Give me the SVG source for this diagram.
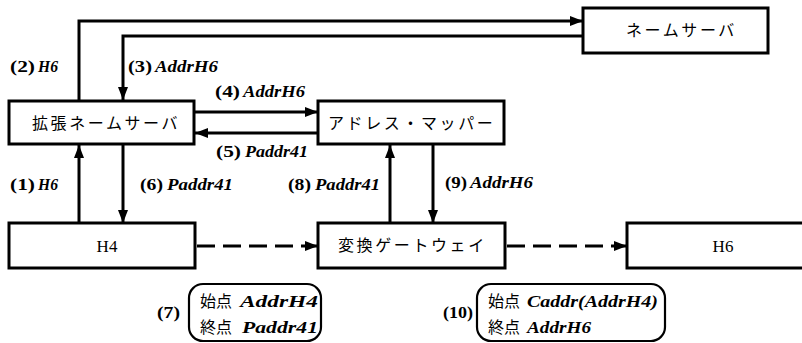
<svg xmlns="http://www.w3.org/2000/svg" width="802" height="343" viewBox="0 0 802 343">
<defs>
<style>
.box{fill:#fff;stroke:#000;stroke-width:3}
.ln{fill:none;stroke:#000;stroke-width:3}
.dash{fill:none;stroke:#000;stroke-width:3;stroke-dasharray:18 8}
.jp{font-family:"Noto Sans CJK JP",sans-serif;font-size:16px;fill:#000;letter-spacing:2.6px}
.num{font-family:"Liberation Serif","DejaVu Serif",serif;font-size:17px;font-weight:700;fill:#000}
.nm{font-family:"Liberation Serif","DejaVu Serif",serif;font-size:17px;font-weight:700;font-style:italic;fill:#000}
.hn{font-family:"Liberation Serif","DejaVu Serif",serif;font-size:17px;fill:#000}
.cj{font-family:"Noto Sans CJK JP",sans-serif;font-size:16px;fill:#000}
.co{fill:#fff;stroke:#000;stroke-width:2.2}
</style>
<marker id="ah" viewBox="0 0 13 10" refX="13" refY="5" markerWidth="13" markerHeight="10" markerUnits="userSpaceOnUse" orient="auto">
<path d="M0,0 L13,5 L0,10 Z" fill="#000"/>
</marker>
</defs>
<rect width="802" height="343" fill="#fff"/>
<g id="connectors">
<path class="ln" d="M79,101 V21 H583" marker-end="url(#ah)"/>
<path class="ln" d="M583,36 H123 V100" marker-end="url(#ah)"/>
<path class="ln" d="M195,112 H318" marker-end="url(#ah)"/>
<path class="ln" d="M318,133 H195" marker-end="url(#ah)"/>
<path class="ln" d="M79,223 V145" marker-end="url(#ah)"/>
<path class="ln" d="M123,145 V223" marker-end="url(#ah)"/>
<path class="ln" d="M390,223 V145" marker-end="url(#ah)"/>
<path class="ln" d="M433,145 V223" marker-end="url(#ah)"/>
<path class="dash" d="M197,246 H318" marker-end="url(#ah)"/>
<path class="dash" d="M507,246 H627" marker-end="url(#ah)"/>
<text class="num" x="10" y="72" textLength="25" lengthAdjust="spacingAndGlyphs">(2)</text><text class="nm" x="38" y="72" textLength="20" lengthAdjust="spacingAndGlyphs">H6</text>
<text class="num" x="128" y="72" textLength="24" lengthAdjust="spacingAndGlyphs">(3)</text><text class="nm" x="155" y="72" textLength="63" lengthAdjust="spacingAndGlyphs">AddrH6</text>
<text class="num" x="215" y="97" textLength="25" lengthAdjust="spacingAndGlyphs">(4)</text><text class="nm" x="243" y="97" textLength="62" lengthAdjust="spacingAndGlyphs">AddrH6</text>
<text class="num" x="216" y="157" textLength="25" lengthAdjust="spacingAndGlyphs">(5)</text><text class="nm" x="245" y="157" textLength="63" lengthAdjust="spacingAndGlyphs">Paddr41</text>
<text class="num" x="10" y="190" textLength="25" lengthAdjust="spacingAndGlyphs">(1)</text><text class="nm" x="38" y="190" textLength="20" lengthAdjust="spacingAndGlyphs">H6</text>
<text class="num" x="140" y="190" textLength="23" lengthAdjust="spacingAndGlyphs">(6)</text><text class="nm" x="167" y="190" textLength="66" lengthAdjust="spacingAndGlyphs">Paddr41</text>
<text class="num" x="288" y="190" textLength="23" lengthAdjust="spacingAndGlyphs">(8)</text><text class="nm" x="315" y="190" textLength="65" lengthAdjust="spacingAndGlyphs">Paddr41</text>
<text class="num" x="445" y="188" textLength="22" lengthAdjust="spacingAndGlyphs">(9)</text><text class="nm" x="470" y="188" textLength="63" lengthAdjust="spacingAndGlyphs">AddrH6</text>
</g>
<g id="ext-ns">
<rect class="box" x="9" y="101" width="185" height="43"/>
<text class="jp" x="32" y="129">拡張ネームサーバ</text>
</g>
<g id="ns">
<rect class="box" x="583" y="8" width="185" height="45"/>
<text class="jp" x="626" y="36">ネームサーバ</text>
</g>
<g id="mapper">
<rect class="box" x="318" y="101" width="186" height="43"/>
<text class="jp" x="328" y="129">アドレス・マッパー</text>
</g>
<g id="h4">
<rect class="box" x="9" y="223" width="186" height="45"/>
<text class="hn" x="107" y="252" text-anchor="middle">H4</text>
</g>
<g id="gateway">
<rect class="box" x="318" y="223" width="187" height="45"/>
<text class="jp" x="338" y="251">変換ゲートウェイ</text>
</g>
<g id="h6">
<rect class="box" x="627" y="223" width="200" height="45"/>
<text class="hn" x="723" y="252" text-anchor="middle">H6</text>
</g>
<g id="note7">
<text class="num" x="157" y="318" textLength="23" lengthAdjust="spacingAndGlyphs">(7)</text>
<rect class="co" x="189" y="284" width="132" height="57" rx="14"/>
<text class="cj" x="200" y="307">始点</text><text class="nm" x="240" y="307" textLength="78" lengthAdjust="spacingAndGlyphs">AddrH4</text>
<text class="cj" x="200" y="333">終点</text><text class="nm" x="242" y="333" textLength="76" lengthAdjust="spacingAndGlyphs">Paddr41</text>
</g>
<g id="note10">
<text class="num" x="443" y="318" textLength="30" lengthAdjust="spacingAndGlyphs">(10)</text>
<rect class="co" x="477" y="284" width="188" height="57" rx="14"/>
<text class="cj" x="488" y="307">始点</text><text class="nm" x="527" y="307" textLength="131" lengthAdjust="spacingAndGlyphs">Caddr(AddrH4)</text>
<text class="cj" x="488" y="333">終点</text><text class="nm" x="527" y="333" textLength="64" lengthAdjust="spacingAndGlyphs">AddrH6</text>
</g>
</svg>
